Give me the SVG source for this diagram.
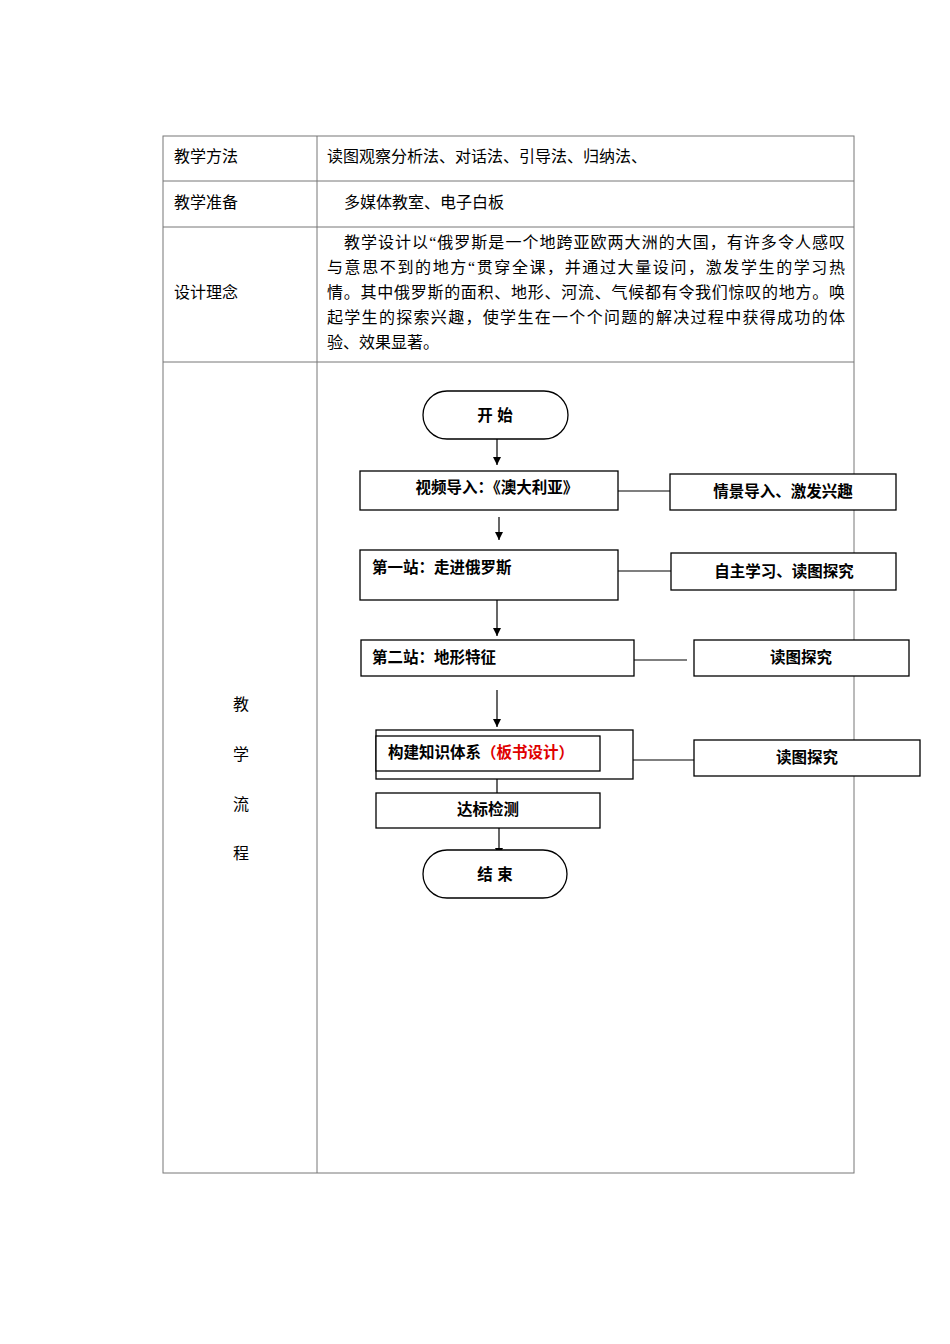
<svg xmlns="http://www.w3.org/2000/svg" width="950" height="1344" viewBox="0 0 950 1344">
<style>
text{font-family:"Liberation Serif","Noto Sans CJK SC",serif;font-size:16px;fill:#000}
.b{font-family:"Liberation Sans","Noto Sans CJK SC",sans-serif;font-weight:bold;font-size:15.5px}
.c{text-anchor:middle}
.n{fill:#fff;stroke:#000;stroke-width:1.3}
.t{stroke:#777;stroke-width:1;fill:none}
.l{stroke:#000;stroke-width:1.2;fill:none}
</style>
<defs><marker id="a" markerWidth="10" markerHeight="10" refX="8" refY="4" orient="auto" markerUnits="userSpaceOnUse"><path d="M0,0L8,4L0,8Z" fill="#000"/></marker></defs>
<g id="table">
<rect x="163" y="136" width="691" height="1037" class="t"/>
<line x1="317" y1="136" x2="317" y2="1173" class="t"/>
<line x1="163" y1="181" x2="854" y2="181" class="t"/>
<line x1="163" y1="227" x2="854" y2="227" class="t"/>
<line x1="163" y1="362" x2="854" y2="362" class="t"/>
<text x="174" y="162">教学方法</text>
<text x="327" y="162">读图观察分析法、对话法、引导法、归纳法、</text>
<text x="174" y="208">教学准备</text>
<text x="344" y="208">多媒体教室、电子白板</text>
<text x="174" y="298">设计理念</text>
<text x="344" y="248" textLength="501" lengthAdjust="spacing">教学设计以“俄罗斯是一个地跨亚欧两大洲的大国，有许多令人感叹</text>
<text x="327" y="273" textLength="518" lengthAdjust="spacing">与意思不到的地方“贯穿全课，并通过大量设问，激发学生的学习热</text>
<text x="327" y="298" textLength="518" lengthAdjust="spacing">情。其中俄罗斯的面积、地形、河流、气候都有令我们惊叹的地方。唤</text>
<text x="327" y="323" textLength="518" lengthAdjust="spacing">起学生的探索兴趣，使学生在一个个问题的解决过程中获得成功的体</text>
<text x="327" y="348">验、效果显著。</text>
<text x="241" y="710" class="c">教</text>
<text x="241" y="760" class="c">学</text>
<text x="241" y="810" class="c">流</text>
<text x="241" y="859" class="c">程</text>
</g>
<g id="connectors">
<line x1="497" y1="439" x2="497" y2="465" class="l" marker-end="url(#a)"/>
<line x1="499" y1="517" x2="499" y2="540" class="l" marker-end="url(#a)"/>
<line x1="497" y1="600" x2="497" y2="636" class="l" marker-end="url(#a)"/>
<line x1="497" y1="690" x2="497" y2="727" class="l" marker-end="url(#a)"/>
<line x1="497" y1="771" x2="497" y2="793" class="l"/>
<line x1="499" y1="828" x2="499" y2="856" class="l" marker-end="url(#a)"/>
<line x1="618" y1="491" x2="670" y2="491" class="l"/>
<line x1="618" y1="571" x2="671" y2="571" class="l"/>
<line x1="634" y1="660" x2="687" y2="660" class="l"/>
<line x1="633" y1="760" x2="694" y2="760" class="l"/>
</g>
<g id="start"><rect x="423" y="391" width="145" height="48" rx="24" class="n"/><text x="495" y="421" class="b c">开  始</text></g>
<g id="n1"><rect x="360" y="471" width="258" height="39" class="n"/><text x="497" y="493" class="b c">视频导入：《澳大利亚》</text></g>
<g id="s1"><rect x="670" y="474" width="226" height="36" class="n"/><text x="783" y="497" class="b c">情景导入、激发兴趣</text></g>
<g id="n2"><rect x="360" y="550" width="258" height="50" class="n"/><text x="372" y="573" class="b">第一站：走进俄罗斯</text></g>
<g id="s2"><rect x="671" y="553" width="225" height="37" class="n"/><text x="784" y="577" class="b c">自主学习、读图探究</text></g>
<g id="n3"><rect x="361" y="640" width="273" height="36" class="n"/><text x="372" y="663" class="b">第二站：地形特征</text></g>
<g id="s3"><rect x="694" y="640" width="215" height="36" class="n"/><text x="801" y="663" class="b c">读图探究</text></g>
<g id="n4"><rect x="376" y="730" width="257" height="49" class="n"/><rect x="376" y="736" width="224" height="35" class="n"/><text x="388" y="758" class="b">构建知识体系<tspan fill="#e00000">（板书设计）</tspan></text></g>
<g id="s4"><rect x="694" y="740" width="226" height="36" class="n"/><text x="807" y="763" class="b c">读图探究</text></g>
<g id="n5"><rect x="376" y="793" width="224" height="35" class="n"/><text x="488" y="815" class="b c">达标检测</text></g>
<g id="end"><rect x="423" y="850" width="144" height="48" rx="24" class="n"/><text x="495" y="880" class="b c">结  束</text></g>
</svg>
